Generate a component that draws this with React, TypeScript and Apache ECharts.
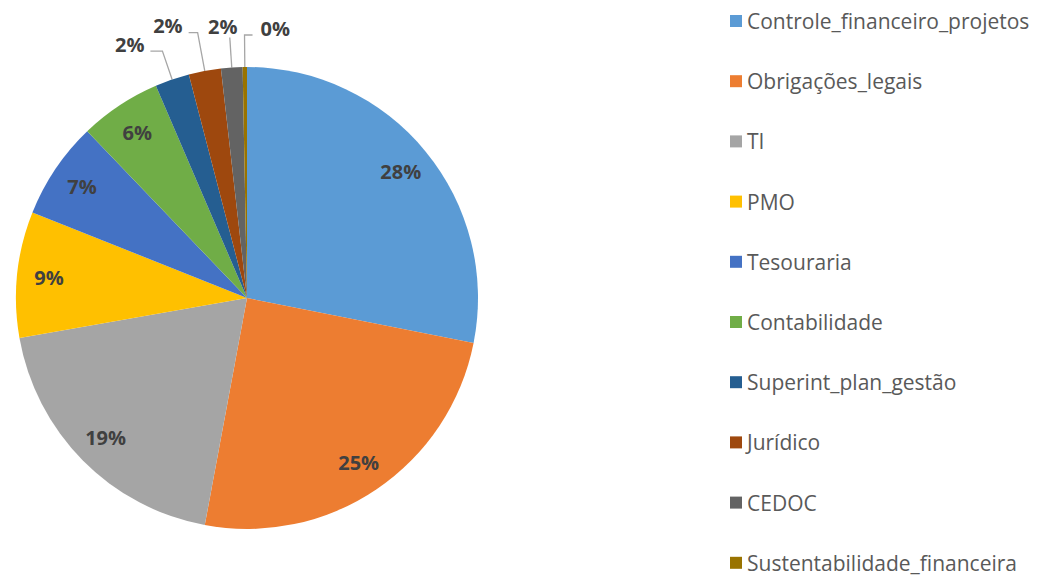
import React, { useEffect, useRef } from 'react';
import * as echarts from 'echarts';

const categories = [
  'Controle_financeiro_projetos',
  'Obrigações_legais',
  'TI',
  'PMO',
  'Tesouraria',
  'Contabilidade',
  'Superint_plan_gestão',
  'Jurídico',
  'CEDOC',
  'Sustentabilidade_financeira',
];
const values = [28.1, 24.8, 19.3, 8.8, 6.8, 5.7, 2.4, 2.25, 1.5, 0.3];
const colors = ['#5B9BD5', '#ED7D31', '#A5A5A5', '#FFC000', '#4472C4', '#70AD47', '#255E91', '#9E480E', '#636363', '#997300'];
const insideCount = 6;
const lineLengths = [30, 30, 30, 30, 30, 30, 30, 39, 30, 32];
const lineLengths2 = [12, 12, 12, 12, 12, 12, 12, 9, 0, 0];

const FONT = 'Open Sans';

export default function App() {
  const ref = useRef<HTMLDivElement>(null);
  useEffect(() => {
    document.body.style.margin = '0';
    const chart = echarts.init(ref.current!, undefined, { renderer: 'svg' });
    const labelStyle = { fontFamily: FONT, fontSize: 20, fontWeight: 'bold' as const, color: '#404040' };
    chart.setOption({
      animation: false,
      legend: {
        orient: 'vertical',
        left: 730,
        top: 9,
        padding: 0,
        itemWidth: 12,
        itemHeight: 12,
        itemGap: 36.2,
        icon: 'rect',
        data: categories,
        textStyle: { fontFamily: FONT, fontSize: 21, color: '#595959', lineHeight: 24 },
      },
      series: [
        {
          type: 'pie',
          center: [247, 298],
          radius: 231,
          startAngle: 90,
          clockwise: true,
          percentPrecision: 0,
          avoidLabelOverlap: false,
          labelLine: { lineStyle: { color: '#A6A6A6', width: 1.3 } },
          labelLayout: (params: any) => {
            const pts = params.labelLinePoints;
            if (!pts) return {};
            const [p0, p1, p2] = pts;
            const i = params.dataIndex;
            if (i === 8) {
              return {
                x: p1[0] - 7,
                y: p1[1] - 1,
                align: 'center',
                verticalAlign: 'bottom',
                labelLinePoints: [p0, p1, p1],
              };
            }
            if (i === 9) {
              return {
                x: p1[0] + 16,
                y: p1[1] - 7,
                align: 'left',
                verticalAlign: 'middle',
                labelLinePoints: [p0, p1, [p1[0] + 8, p1[1]]],
              };
            }
            return { x: p2[0] - 6, y: p2[1] - 7, align: 'right', verticalAlign: 'middle', labelLinePoints: [p0, p1, p2] };
          },
          data: categories.map((name, i) => ({
            name,
            value: values[i],
            itemStyle: { color: colors[i] },
            label: { show: i >= insideCount, position: 'outside', formatter: '{d}%', ...labelStyle },
            labelLine: { show: i >= insideCount, length: lineLengths[i], length2: lineLengths2[i] },
          })),
        },
        {
          type: 'pie',
          center: [247, 298],
          radius: [161, 231],
          startAngle: 90,
          clockwise: true,
          percentPrecision: 0,
          silent: true,
          itemStyle: { color: 'transparent' },
          labelLine: { show: false },
          data: categories.map((name, i) => ({
            name,
            value: values[i],
            label: { show: i < insideCount, position: 'inside', formatter: '{d}%', ...labelStyle },
          })),
        },
      ],
    });
    return () => chart.dispose();
  }, []);
  return <div ref={ref} style={{ width: 1041, height: 576 }} />;
}
